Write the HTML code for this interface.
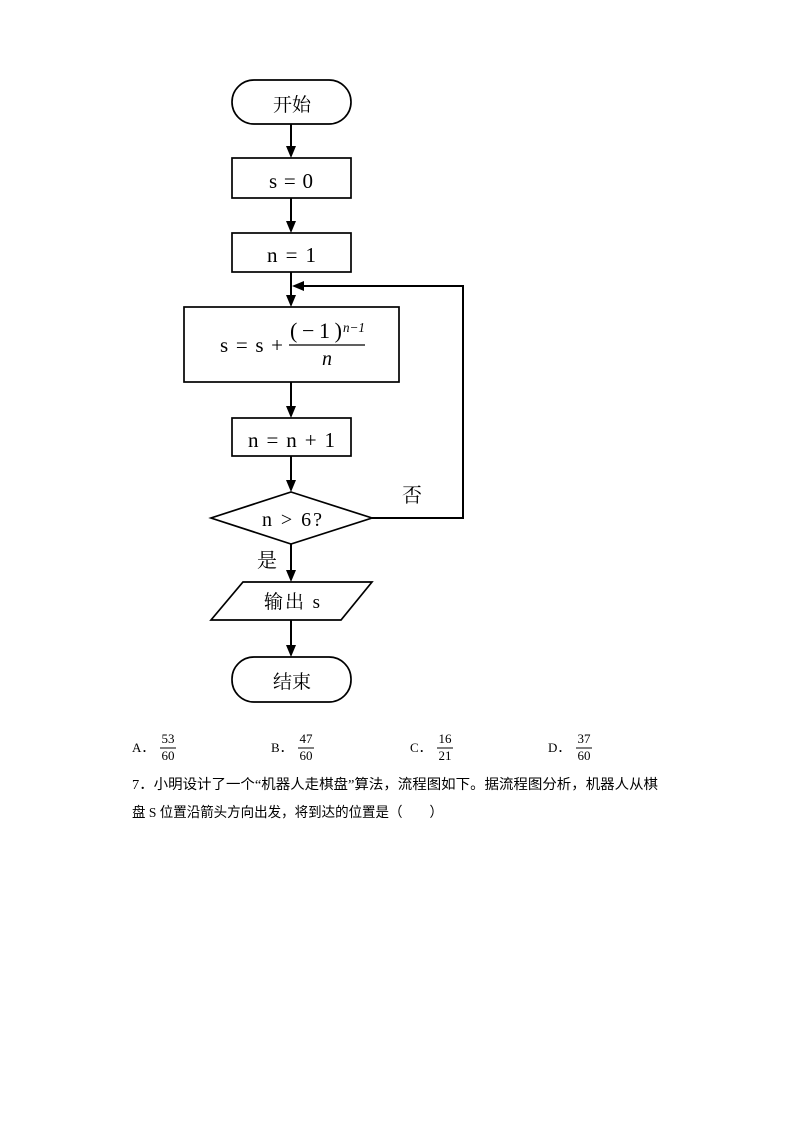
<!DOCTYPE html>
<html><head><meta charset="utf-8">
<style>
html,body{margin:0;padding:0;background:#fff;}
svg{display:block;}
.cj{font-family:"Liberation Serif","Noto Serif CJK SC",serif;}
.mt{font-family:"Liberation Serif","DejaVu Serif",serif;}
.bt{font-family:"Liberation Serif","Noto Sans CJK SC",sans-serif;}
</style></head>
<body>
<svg width="794" height="1123" viewBox="0 0 794 1123" xmlns="http://www.w3.org/2000/svg">
<g fill="none" stroke="#000" stroke-width="1.7">
<rect x="232" y="80" width="119" height="44" rx="22" ry="22"/>
<rect x="232" y="158" width="119" height="40"/>
<rect x="232" y="233" width="119" height="39"/>
<rect x="184" y="307" width="215" height="75"/>
<rect x="232" y="418" width="119" height="38"/>
<polygon points="291,492 372,518 291,544 211,518"/>
<polygon points="243,582 372,582 341,620 211,620"/>
<rect x="232" y="657" width="119" height="45" rx="22" ry="22"/>
</g>
<g stroke="#000" stroke-width="2" fill="none">
<line x1="291" y1="124" x2="291" y2="148"/>
<line x1="291" y1="198" x2="291" y2="223"/>
<line x1="291" y1="272" x2="291" y2="297"/>
<line x1="291" y1="382" x2="291" y2="408"/>
<line x1="291" y1="456" x2="291" y2="482"/>
<line x1="291" y1="544" x2="291" y2="572"/>
<line x1="291" y1="620" x2="291" y2="647"/>
<polyline points="372,518 463,518 463,286 302,286"/>
</g>
<g fill="#000">
<polygon points="286,146 296,146 291,158"/>
<polygon points="286,221 296,221 291,233"/>
<polygon points="286,295 296,295 291,307"/>
<polygon points="286,406 296,406 291,418"/>
<polygon points="286,480 296,480 291,492"/>
<polygon points="286,570 296,570 291,582"/>
<polygon points="286,645 296,645 291,657"/>
<polygon points="304,281 304,291 292,286"/>
</g>
<g fill="#000">
<text x="273" y="111" class="cj" font-size="19" textLength="38" lengthAdjust="spacingAndGlyphs">开始</text>
<text x="269" y="188" class="mt" font-size="21" textLength="44" lengthAdjust="spacing">s = 0</text>
<text x="267" y="262" class="mt" font-size="21" textLength="49" lengthAdjust="spacing">n = 1</text>
<text x="248" y="447" class="mt" font-size="21" textLength="87" lengthAdjust="spacing">n = n + 1</text>
<text x="262" y="526" class="mt" font-size="20" textLength="60" lengthAdjust="spacing">n &gt; 6?</text>
<text x="402" y="502" class="cj" font-size="20">否</text>
<text x="257" y="567" class="cj" font-size="20">是</text>
<text x="264" y="608" class="cj" font-size="19" textLength="56" lengthAdjust="spacing">输出 s</text>
<text x="273" y="688" class="cj" font-size="19" textLength="38" lengthAdjust="spacingAndGlyphs">结束</text>
</g>
<g fill="#000" class="mt">
<text x="220" y="352" font-size="21" textLength="63" lengthAdjust="spacing">s = s +</text>
<text x="290" y="338" font-size="22" textLength="52" lengthAdjust="spacing">(−1)</text>
<text x="343" y="332" font-size="14" font-style="italic" textLength="22" lengthAdjust="spacingAndGlyphs">n−1</text>
<line x1="289" y1="345" x2="365" y2="345" stroke="#000" stroke-width="1.3"/>
<text x="327" y="365" font-size="20" font-style="italic" text-anchor="middle">n</text>
</g>
<g fill="#000" class="bt" font-size="13">
<text x="132" y="752">A．</text>
<text x="168" y="743" text-anchor="middle">53</text>
<line x1="160" y1="748" x2="176" y2="748" stroke="#000" stroke-width="1"/>
<text x="168" y="760" text-anchor="middle">60</text>
<text x="271" y="752">B．</text>
<text x="306" y="743" text-anchor="middle">47</text>
<line x1="298" y1="748" x2="314" y2="748" stroke="#000" stroke-width="1"/>
<text x="306" y="760" text-anchor="middle">60</text>
<text x="410" y="752">C．</text>
<text x="445" y="743" text-anchor="middle">16</text>
<line x1="437" y1="748" x2="453" y2="748" stroke="#000" stroke-width="1"/>
<text x="445" y="760" text-anchor="middle">21</text>
<text x="548" y="752">D．</text>
<text x="584" y="743" text-anchor="middle">37</text>
<line x1="576" y1="748" x2="592" y2="748" stroke="#000" stroke-width="1"/>
<text x="584" y="760" text-anchor="middle">60</text>
</g>
<g fill="#000" class="bt" font-size="14">
<text x="132" y="789" textLength="526" lengthAdjust="spacingAndGlyphs">7．小明设计了一个“机器人走棋盘”算法，流程图如下。据流程图分析，机器人从棋</text>
<text x="132" y="817" textLength="311" lengthAdjust="spacingAndGlyphs">盘 S 位置沿箭头方向出发，将到达的位置是（　　）</text>
</g>
</svg>
</body></html>
